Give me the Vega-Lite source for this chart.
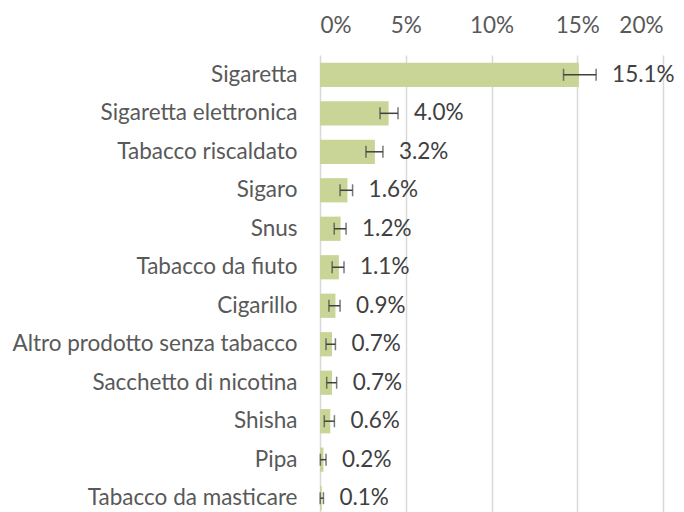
{
  "$schema": "https://vega.github.io/schema/vega-lite/v6.json",
  "width": 343,
  "height": 457,
  "autosize": "none",
  "padding": {"left": 320, "top": 55, "right": 21, "bottom": 0},
  "background": "white",
  "config": {"view": {"stroke": null}, "font": "Lato"},
  "data": {"values": [
    {"cat": "Sigaretta", "v": 0.151, "lo": 0.142, "hi": 0.161},
    {"cat": "Sigaretta elettronica", "v": 0.040, "lo": 0.035, "hi": 0.0455},
    {"cat": "Tabacco riscaldato ", "v": 0.032, "lo": 0.0268, "hi": 0.0367},
    {"cat": "Sigaro", "v": 0.016, "lo": 0.0117, "hi": 0.019},
    {"cat": "Snus", "v": 0.012, "lo": 0.0083, "hi": 0.0152},
    {"cat": "Tabacco da fiuto", "v": 0.011, "lo": 0.0071, "hi": 0.014},
    {"cat": "Cigarillo", "v": 0.009, "lo": 0.0052, "hi": 0.0117},
    {"cat": "Altro prodotto senza tabacco", "v": 0.007, "lo": 0.0035, "hi": 0.009},
    {"cat": "Sacchetto di nicotina", "v": 0.007, "lo": 0.0039, "hi": 0.0097},
    {"cat": "Shisha", "v": 0.006, "lo": 0.0025, "hi": 0.0084},
    {"cat": "Pipa", "v": 0.002, "lo": 0.0002, "hi": 0.0035},
    {"cat": "Tabacco da masticare", "v": 0.001, "lo": 0.0001, "hi": 0.002}
  ]},
  "encoding": {
    "y": {
      "field": "cat", "type": "nominal", "sort": null, "title": null,
      "scale": {"range": [0, 463], "paddingInner": 0.37, "paddingOuter": 0.2},
      "axis": {"ticks": false, "domain": false, "labelFontSize": 22.5, "labelColor": "#595959", "labelPadding": 23, "labelFont": "Lato", "labelLimit": 400}
    }
  },
  "layer": [
    {
      "mark": {"type": "bar", "color": "#C9D597"},
      "encoding": {
        "x": {
          "field": "v", "type": "quantitative", "title": null,
          "scale": {"domain": [0, 0.2], "nice": false},
          "axis": {"orient": "top", "format": ".0%", "values": [0, 0.05, 0.1, 0.15, 0.2], "ticks": false, "domain": false, "grid": true, "gridColor": "#D9D9D9", "gridWidth": 1.5, "labelFontSize": 22.5, "labelColor": "#595959", "labelPadding": 18, "labelFont": "Lato"}
        }
      }
    },
    {
      "mark": {"type": "rule", "color": "#404040", "strokeWidth": 1.5},
      "encoding": {"x": {"field": "lo", "type": "quantitative"}, "x2": {"field": "hi"}}
    },
    {
      "mark": {"type": "tick", "color": "#404040", "thickness": 1.5, "size": 12, "orient": "vertical"},
      "encoding": {"x": {"field": "lo", "type": "quantitative"}}
    },
    {
      "mark": {"type": "tick", "color": "#404040", "thickness": 1.5, "size": 12, "orient": "vertical"},
      "encoding": {"x": {"field": "hi", "type": "quantitative"}}
    },
    {
      "mark": {"type": "text", "align": "left", "baseline": "middle", "dx": 16, "fontSize": 22.5, "color": "#404040", "font": "Lato"},
      "encoding": {"x": {"field": "hi", "type": "quantitative"}, "text": {"field": "v", "type": "quantitative", "format": ".1%"}}
    }
  ]
}
